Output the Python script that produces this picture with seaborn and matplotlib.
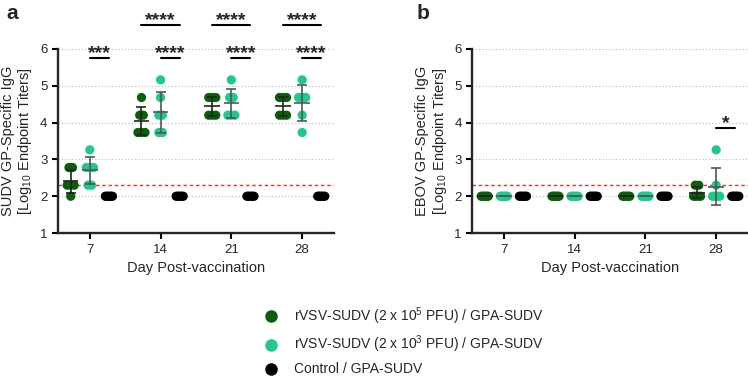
import matplotlib
matplotlib.use("Agg")
import matplotlib.pyplot as plt
from matplotlib.lines import Line2D
import numpy as np
import pandas as pd
import seaborn as sns

sns.set_style("ticks")
plt.rcParams['font.family'] = ['Liberation Sans', 'DejaVu Sans']
plt.rcParams['mathtext.fontset'] = 'custom'
plt.rcParams['mathtext.rm'] = 'Liberation Sans'
plt.rcParams['mathtext.it'] = 'Liberation Sans:italic'

# data: log10 endpoint titers per animal
days = ["7", "14", "21", "28"]
groups = ["rVSV-SUDV (2 x 10$^{5}$ PFU) / GPA-SUDV",
          "rVSV-SUDV (2 x 10$^{3}$ PFU) / GPA-SUDV",
          "Control / GPA-SUDV"]
colors = ["#0b5e0b", "#1ec98b", "#000000"]
barColors = ["#222222", "#555555", "#000000"]

sudvHigh = [[2.78, 2.78, 2.3, 2.3, 2.3, 2.0],
            [4.68, 4.2, 4.2, 3.73, 3.73, 3.73],
            [4.68, 4.68, 4.68, 4.2, 4.2, 4.2],
            [4.68, 4.68, 4.68, 4.2, 4.2, 4.2]]
sudvLow = [[3.26, 2.78, 2.78, 2.78, 2.3, 2.3],
           [5.16, 4.68, 4.2, 4.2, 3.73, 3.73],
           [5.16, 4.68, 4.68, 4.2, 4.2, 4.2],
           [5.16, 4.68, 4.68, 4.68, 4.2, 3.73]]
sudvCtrl = [[2.0] * 6, [2.0] * 6, [2.0] * 6, [2.0] * 6]

ebovHigh = [[2.0] * 6, [2.0] * 6, [2.0] * 6,
            [2.3, 2.3, 2.0, 2.0, 2.0, 2.0]]
ebovLow = [[2.0] * 6, [2.0] * 6, [2.0] * 6,
           [3.26, 2.3, 2.0, 2.0, 2.0, 2.0]]
ebovCtrl = [[2.0] * 6, [2.0] * 6, [2.0] * 6, [2.0] * 6]

lod = 2.3

# significance: (day index, group from, group to, label)
sudvSig = [(0, 1, 2, "***"),
           (1, 0, 2, "****"), (1, 1, 2, "****"),
           (2, 0, 2, "****"), (2, 1, 2, "****"),
           (3, 0, 2, "****"), (3, 1, 2, "****")]
ebovSig = [(3, 1, 2, "*")]

groupOffset = 0.27
spread = 0.025


def buildFrame(seriesList):
    rows = []
    for g, series in enumerate(seriesList):
        for d, vals in enumerate(series):
            vals = np.array(vals)
            for v in np.unique(vals):
                k = int((vals == v).sum())
                s = min(spread * (k - 1), 0.05)
                offs = np.linspace(-s, s, k) if k > 1 else [0.0]
                for o in offs:
                    rows.append({"x": d + (g - 1) * groupOffset + o,
                                 "day": d, "group": groups[g], "value": v})
    return pd.DataFrame(rows)


def drawPanel(ax, seriesList, sig, ylabel):
    df = buildFrame(seriesList)
    ax.yaxis.grid(True, linestyle=(0, (1, 2)), color="#bbbbbb", linewidth=0.8)
    ax.set_axisbelow(True)
    ax.axhline(lod, color="#ff3020", linestyle=(0, (2.5, 2)), linewidth=1.0, zorder=1)

    sns.scatterplot(data=df, x="x", y="value", hue="group", hue_order=groups,
                    palette=colors, s=44, linewidth=0, legend=False, ax=ax, zorder=3)

    # mean +/- SD
    for g, series in enumerate(seriesList):
        if g == 2:
            continue
        for d, vals in enumerate(series):
            m = np.mean(vals)
            sd = np.std(vals, ddof=1)
            xc = d + (g - 1) * groupOffset
            ax.errorbar(xc, m, yerr=sd, fmt="none", ecolor=barColors[g],
                        elinewidth=1.2, capsize=3.5, capthick=1.2, zorder=4)
            ax.hlines(m, xc - 0.11, xc + 0.11, color=barColors[g],
                      linewidth=1.2, zorder=4)

    for d, g0, g1, lab in sig:
        x0 = d + (g0 - 1) * groupOffset
        x1 = d + (g1 - 1) * groupOffset
        yb = 6.65 if g0 == 0 else (3.85 if lab == "*" else 5.76)
        ax.plot([x0, x1], [yb, yb], color="black", linewidth=1.5, clip_on=False)
        ax.text((x0 + x1) / 2, yb - 0.11, lab, ha="center", va="bottom",
                fontsize=14, fontweight="bold", clip_on=False)

    ax.set_xlim(-0.45, 3.45)
    ax.set_ylim(1, 6)
    ax.set_xticks(range(len(days)))
    ax.set_xticklabels(days)
    ax.set_yticks([1, 2, 3, 4, 5, 6])
    ax.tick_params(axis="both", labelsize=9.5, width=1.5, length=4, color="black")
    ax.set_xlabel("Day Post-vaccination", fontsize=10.5)
    ax.set_ylabel(ylabel, fontsize=10.5, linespacing=1.1)
    for sp in ["left", "bottom"]:
        ax.spines[sp].set_linewidth(1.7)
    sns.despine(ax=ax)


fig = plt.figure(figsize=(7.48, 3.79), dpi=100)
axA = fig.add_axes([0.0775, 0.385, 0.369, 0.486])
axB = fig.add_axes([0.631, 0.385, 0.369, 0.486])

drawPanel(axA, [sudvHigh, sudvLow, sudvCtrl], sudvSig,
          "SUDV GP-Specific IgG\n[Log$_{10}$ Endpoint Titers]")
drawPanel(axB, [ebovHigh, ebovLow, ebovCtrl], ebovSig,
          "EBOV GP-Specific IgG\n[Log$_{10}$ Endpoint Titers]")

fig.text(0.008, 0.965, "a", fontsize=15, fontweight="bold", va="center")
fig.text(0.557, 0.965, "b", fontsize=15, fontweight="bold", va="center")

handles = [Line2D([0], [0], marker="o", linestyle="none", markersize=8,
                  markerfacecolor=c, markeredgecolor=c) for c in colors]
fig.legend(handles, groups, loc="upper left", bbox_to_anchor=(0.336, 0.209),
           frameon=False, fontsize=10, labelspacing=0.5, handletextpad=0.7,
           borderaxespad=0)

fig.savefig("out.png", dpi=100)
